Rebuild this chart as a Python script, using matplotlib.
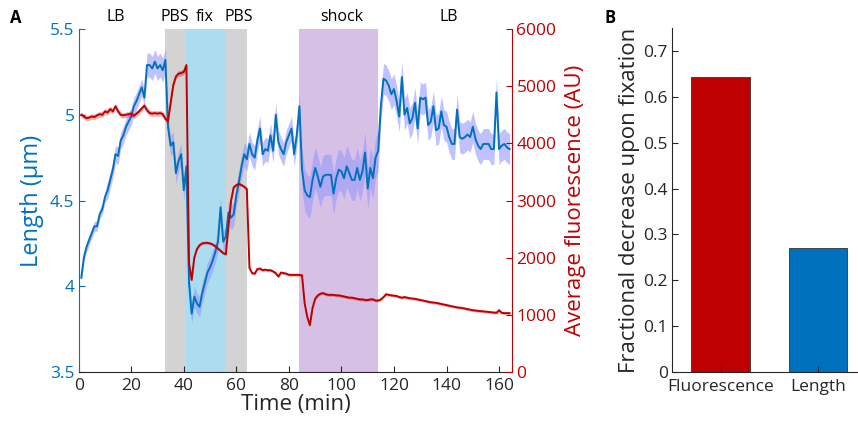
import numpy as np
import matplotlib
matplotlib.use('Agg')
import matplotlib.pyplot as plt
from matplotlib.transforms import blended_transform_factory

plt.rcParams['font.family'] = ['Open Sans', 'DejaVu Sans']

# time axis (min)
time = np.arange(1, 165)

# cell length (um)
length = [4.05, 4.17, 4.23, 4.27, 4.31, 4.35, 4.35, 4.42, 4.45, 4.52,
          4.56, 4.62, 4.68, 4.77, 4.76, 4.85, 4.88, 4.93, 4.96, 4.99,
          5.05, 5.08, 5.12, 5.16, 5.10, 5.29, 5.29, 5.27, 5.31, 5.27,
          5.29, 5.26, 5.32, 4.93, 4.82, 4.84, 4.66, 4.73, 4.77, 4.56,
          4.70, 4.02, 3.84, 3.94, 3.90, 3.88, 3.96, 4.02, 4.08, 4.11,
          4.15, 4.20, 4.26, 4.46, 4.26, 4.29, 4.43, 4.40, 4.42, 4.53,
          4.61, 4.70, 4.77, 4.74, 4.83, 4.77, 4.75, 4.85, 4.92, 4.77,
          4.80, 4.79, 4.88, 4.79, 5.00, 4.84, 4.80, 4.77, 4.84, 4.88,
          4.92, 4.77, 4.88, 5.05, 4.68, 4.56, 4.53, 4.52, 4.62, 4.69,
          4.64, 4.58, 4.64, 4.65, 4.65, 4.65, 4.54, 4.63, 4.68, 4.67,
          4.63, 4.70, 4.66, 4.62, 4.62, 4.69, 4.62, 4.67, 4.78, 4.57,
          4.69, 4.63, 4.75, 4.79, 5.05, 5.21, 5.20, 5.17, 5.12, 5.15,
          5.08, 4.99, 5.22, 5.00, 5.04, 4.95, 4.98, 5.07, 4.92, 5.10,
          5.09, 5.10, 4.94, 4.96, 5.05, 4.91, 4.92, 5.02, 4.94, 4.93,
          4.87, 4.83, 4.83, 5.03, 4.87, 4.86, 4.87, 4.885, 4.87, 4.93,
          4.86, 4.82, 4.80, 4.83, 4.83, 4.83, 4.80, 4.80, 5.13, 4.80,
          4.82, 4.83, 4.81, 4.80]

# spread of length (um)
length_err = [0.03]*10 + [0.05]*15 + [0.07]*8 + [0.06]*8 + [0.06]*15 + \
             [0.07]*28 + [0.12]*30 + [0.09]*50

# average fluorescence (AU)
fluor = [4500, 4470, 4440, 4450, 4470, 4460, 4490, 4510, 4500, 4560,
         4540, 4600, 4560, 4650, 4560, 4500, 4490, 4500, 4510, 4520,
         4480, 4520, 4560, 4610, 4660, 4580, 4530, 4520, 4530, 4520,
         4530, 4510, 4430, 4390, 4700, 5020, 5170, 5220, 5230, 5250,
         5370, 1900, 1610, 2000, 2150, 2220, 2250, 2260, 2260, 2250,
         2230, 2200, 2160, 2120, 2080, 2060, 2550, 3000, 3230, 3270,
         3290, 3270, 3240, 3200, 1820, 1730, 1720, 1800, 1810, 1780,
         1790, 1780, 1780, 1760, 1730, 1670, 1740, 1730, 1720, 1700,
         1700, 1700, 1700, 1700, 1690, 1200, 960, 820, 1120, 1280,
         1340, 1370, 1380, 1360, 1350, 1350, 1350, 1340, 1340, 1330,
         1320, 1310, 1300, 1300, 1290, 1280, 1270, 1270, 1260, 1260,
         1270, 1270, 1250, 1250, 1270, 1310, 1360, 1350, 1340, 1335,
         1330, 1310, 1300, 1310, 1300, 1290, 1285, 1280, 1270, 1260,
         1250, 1240, 1230, 1220, 1215, 1210, 1200, 1190, 1180, 1170,
         1160, 1150, 1140, 1130, 1125, 1120, 1110, 1100, 1090, 1080,
         1075, 1070, 1065, 1060, 1055, 1050, 1045, 1040, 1035, 1080,
         1035, 1030, 1030, 1028, 1025]
fluor = fluor[:len(time)]
fluor_err = [50]*41 + [25]*123

# medium periods: (start, end, colour)
periods = [(33, 41, '#d3d3d3'), (41, 56, '#acdcef'),
           (56, 64, '#d3d3d3'), (84, 114, '#d6c0e5')]
period_labels = ['LB', 'PBS', 'fix', 'PBS', 'shock', 'LB']
period_label_x = [14, 36.5, 48, 61, 100, 141]

# panel B
bar_names = ['Fluorescence', 'Length']
bar_values = [0.644, 0.27]
bar_colors = ['#bf0000', '#0072bd']

blue = '#0072bd'
red = '#c00000'
dark = '#262626'

fig = plt.figure(figsize=(8.58, 4.21), dpi=100)

ax1 = fig.add_axes([0.0917, 0.1164, 0.5053, 0.8146])
for start, end, col in periods:
    ax1.axvspan(start, end, color=col, lw=0, zorder=0)
l = np.array(length)
e = np.array(length_err)
ax1.fill_between(time, l - e, l + e, color=(0.6, 0.6, 1.0), alpha=0.6,
                 lw=0, zorder=1)
ax1.plot(time, l, color=blue, lw=1.4, zorder=3)
ax1.set_xlim(0, 165)
ax1.set_ylim(3.5, 5.5)
ax1.set_yticks([3.5, 4, 4.5, 5, 5.5])
ax1.set_yticklabels(['3.5', '4', '4.5', '5', '5.5'])
ax1.set_xticks(range(0, 161, 20))
ax1.tick_params(direction='in', length=4, labelsize=12.5)
ax1.tick_params(axis='y', colors=blue, labelcolor=blue, pad=3)
ax1.tick_params(axis='x', colors=dark, labelcolor=dark, pad=4)
ax1.spines['top'].set_visible(False)
ax1.spines['right'].set_visible(False)
ax1.spines['left'].set_color(blue)
ax1.spines['bottom'].set_color(dark)
ax1.set_xlabel('Time (min)', fontsize=16, color=dark, labelpad=0)
ax1.set_ylabel('Length (\u03bcm)', fontsize=17, color=blue, labelpad=4)

ax2 = ax1.twinx()
f = np.array(fluor)
fe = np.array(fluor_err)
ax2.fill_between(time, f - fe, f + fe, color=red, alpha=0.3, lw=0)
ax2.plot(time, f, color=red, lw=1.4)
ax2.set_ylim(0, 6000)
ax2.set_yticks(range(0, 6001, 1000))
ax2.tick_params(direction='in', length=4, labelsize=12.5, colors=red,
                labelcolor=red, pad=3)
ax2.spines['top'].set_visible(False)
ax2.spines['left'].set_visible(False)
ax2.spines['bottom'].set_visible(False)
ax2.spines['right'].set_color(red)
ax2.set_ylabel('Average fluorescence (AU)', fontsize=16, color=red,
               labelpad=6)

trans = blended_transform_factory(ax1.transData, ax1.transAxes)
for name, xpos in zip(period_labels, period_label_x):
    ax1.text(xpos, 1.012, name, transform=trans, ha='center', va='bottom',
             fontsize=11.5, color='black')

fig.text(0.012, 0.945, 'A', fontsize=12, fontweight='bold')
fig.text(0.705, 0.945, 'B', fontsize=12, fontweight='bold')

ax3 = fig.add_axes([0.783, 0.1164, 0.216, 0.8171])
ax3.bar([1, 2], bar_values, width=0.6, color=bar_colors, edgecolor='#333333',
        linewidth=0.6)
ax3.set_xlim(0.5, 2.4)
ax3.set_ylim(0, 0.75)
ax3.set_xticks([1, 2])
ax3.set_xticklabels(bar_names)
ax3.set_yticks([0, 0.1, 0.2, 0.3, 0.4, 0.5, 0.6, 0.7])
ax3.set_yticklabels(['0', '0.1', '0.2', '0.3', '0.4', '0.5', '0.6', '0.7'])
ax3.tick_params(direction='in', length=4, labelsize=12.5, colors=dark,
                labelcolor=dark)
ax3.tick_params(axis='x', pad=5)
ax3.tick_params(axis='y', pad=3)
ax3.spines['top'].set_visible(False)
ax3.spines['right'].set_visible(False)
ax3.spines['left'].set_color(dark)
ax3.spines['bottom'].set_color(dark)
ax3.set_ylabel('Fractional decrease upon fixation', fontsize=16, color=dark,
               labelpad=2)

fig.savefig('out.png', dpi=100)
